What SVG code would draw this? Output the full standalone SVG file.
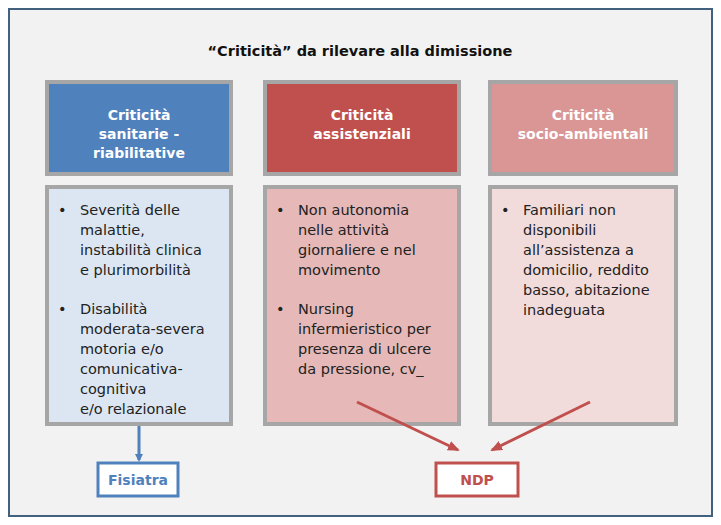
<svg xmlns="http://www.w3.org/2000/svg" width="721" height="525" viewBox="0 0 721 525">
<style>
.t{font-family:"DejaVu Sans",sans-serif;}
.h{font-size:14px;font-weight:bold;fill:#fff;text-anchor:middle}
.b{font-size:14.5px;fill:#222}
.box{stroke:#a6a6a6;stroke-width:4}
</style>
<defs>
<marker id="ab" markerWidth="8" markerHeight="8" refX="6" refY="4" orient="auto" markerUnits="userSpaceOnUse"><path d="M0,0L8,4L0,8z" fill="#4f81bd"/></marker>
<marker id="ar" markerWidth="12" markerHeight="10" refX="10" refY="5" orient="auto" markerUnits="userSpaceOnUse"><path d="M0,0L12,5L0,10z" fill="#c0504d"/></marker>
</defs>
<rect x="9" y="9" width="703" height="507" fill="#f2f2f2" stroke="#41617f" stroke-width="2"/>
<text class="t" x="360" y="56" font-size="14.5" font-weight="bold" text-anchor="middle" fill="#111">“Criticità” da rilevare alla dimissione</text>
<g id="h1"><rect class="box" x="47" y="82" width="184" height="92" fill="#4f81bd"/>
<text class="t h" x="139" y="120">Criticità</text><text class="t h" x="139" y="139">sanitarie -</text><text class="t h" x="139" y="158">riabilitative</text></g>
<g id="h2"><rect class="box" x="265" y="82" width="194" height="92" fill="#c0504d"/>
<text class="t h" x="362" y="120">Criticità</text><text class="t h" x="362" y="139">assistenziali</text></g>
<g id="h3"><rect class="box" x="490" y="82" width="186" height="92" fill="#d99694"/>
<text class="t h" x="583" y="120">Criticità</text><text class="t h" x="583" y="139">socio-ambientali</text></g>
<g id="c1"><rect class="box" x="47" y="187" width="184" height="237" fill="#dce6f2"/>
<text class="t b"><tspan x="58" y="215">•</tspan><tspan x="80" y="215">Severità delle</tspan><tspan x="80" y="235">malattie,</tspan><tspan x="80" y="255">instabilità clinica</tspan><tspan x="80" y="275">e plurimorbilità</tspan>
<tspan x="58" y="314">•</tspan><tspan x="80" y="314">Disabilità</tspan><tspan x="80" y="334">moderata-severa</tspan><tspan x="80" y="354">motoria e/o</tspan><tspan x="80" y="374">comunicativa-</tspan><tspan x="80" y="394">cognitiva</tspan><tspan x="80" y="414">e/o relazionale</tspan></text></g>
<g id="c2"><rect class="box" x="265" y="187" width="194" height="237" fill="#e6b9b8"/>
<text class="t b"><tspan x="276" y="215">•</tspan><tspan x="298" y="215">Non autonomia</tspan><tspan x="298" y="235">nelle attività</tspan><tspan x="298" y="255">giornaliere e nel</tspan><tspan x="298" y="275">movimento</tspan>
<tspan x="276" y="314">•</tspan><tspan x="298" y="314">Nursing</tspan><tspan x="298" y="334">infermieristico per</tspan><tspan x="298" y="354">presenza di ulcere</tspan><tspan x="298" y="374">da pressione, cv_</tspan></text></g>
<g id="c3"><rect class="box" x="490" y="187" width="186" height="237" fill="#f2dcdb"/>
<text class="t b"><tspan x="501" y="215">•</tspan><tspan x="523" y="215">Familiari non</tspan><tspan x="523" y="235">disponibili</tspan><tspan x="523" y="255">all’assistenza a</tspan><tspan x="523" y="275">domicilio, reddito</tspan><tspan x="523" y="295">basso, abitazione</tspan><tspan x="523" y="315">inadeguata</tspan></text></g>
<g id="fisiatra"><rect x="98" y="463" width="80" height="33" fill="#fff" stroke="#4f81bd" stroke-width="3"/>
<text class="t" x="138" y="485" font-size="14" font-weight="bold" fill="#4f81bd" text-anchor="middle">Fisiatra</text></g>
<g id="ndp"><rect x="436" y="463" width="82" height="33" fill="#fff" stroke="#c0504d" stroke-width="3"/>
<text class="t" x="477" y="485" font-size="14" font-weight="bold" fill="#c0504d" text-anchor="middle">NDP</text></g>
<g id="connectors">
<line x1="139" y1="426" x2="139" y2="460" stroke="#4f81bd" stroke-width="3" marker-end="url(#ab)"/>
<line x1="357" y1="402" x2="458" y2="450" stroke="#c0504d" stroke-width="3" marker-end="url(#ar)"/>
<line x1="590" y1="402" x2="492" y2="450" stroke="#c0504d" stroke-width="3" marker-end="url(#ar)"/>
</g>
</svg>
